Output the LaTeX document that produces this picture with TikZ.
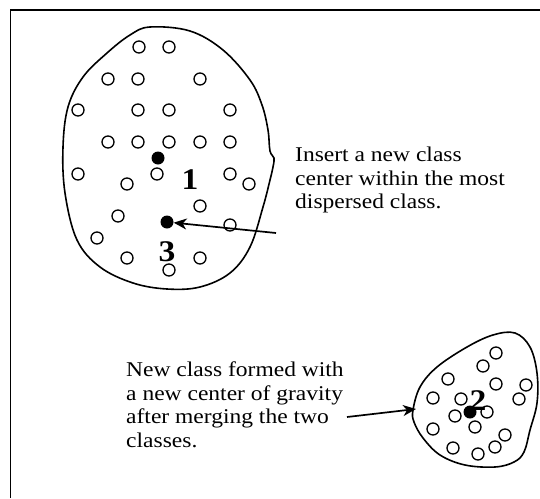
\documentclass[tikz,border=0pt]{standalone}
\usepackage{fontspec}
\setmainfont{Liberation Serif}
\newfontfamily\labfont[FakeStretch=1.12]{Liberation Serif}
\usetikzlibrary{arrows.meta}
\tikzset{
  pt/.style={circle,draw,line width=1.35pt,minimum size=12pt,inner sep=0pt},
  ctr/.style={circle,fill=black,minimum size=13pt,inner sep=0pt},
  blob/.style={line width=1.6pt},
  note/.style={font=\labfont\fontsize{21}{23.5}\selectfont,align=left,inner sep=0pt,anchor=north west},
  num/.style={font=\labfont\fontsize{30}{32}\selectfont\bfseries,inner sep=0pt},
  conn/.style={line width=1.7pt,-{Stealth[length=13pt,width=11pt,inset=4pt]}},
  frame/.style={line width=1.6pt}
}
\begin{document}
\begin{tikzpicture}[x=1pt,y=-1pt]
\useasboundingbox (0,0) rectangle (540,498);
% frame
\draw[frame] (10.5,498) -- (10.5,10) -- (540,10);
% cluster 1 boundary
\draw[blob] plot[smooth cycle,tension=0.6] coordinates {
 (150,27) (190,31) (223,50) (250,80) (262,105) (268,130) (270,151) (274,158)
 (273,167) (270,180) (263,207) (250,247) (230,273) (200,287) (167,289)
 (133,283) (100,267) (77,240) (65,193) (63,147) (68,107) (83,77) (107,53) (130,35)};
% cluster 1 points
\foreach \x/\y [count=\i] in {139/47,169/47,108/79,138/79,200/79,78/110,138/110,169/110,230/110,
  108/142,138/142,169/142,200/142,230/142,78/174,157/174,230/174,249/184,127/184,
  200/206,118/216,230/225,97/238,127/258,200/258,169/270}
  \node[pt] (p\i) at (\x,\y) {};
\node[ctr] (c1) at (158,158) {};
\node[ctr] (c3) at (167,222) {};
\node[num] (l1) at (190,180) {1};
\node[num] (l3) at (167,252) {3};
% cluster 2 boundary
\draw[blob] plot[smooth cycle,tension=0.6] coordinates {
 (413,410) (420,387) (437,367) (467,347) (493,335) (515,333) (530,347)
 (537,373) (537,403) (530,430) (524,452) (514,462) (495,467) (465,465)
 (440,455) (423,438) (414,422)};
\foreach \x/\y [count=\i] in {496/353,483/366,448/379,496/384,526/385,433/398,461/399,519/399,
  487/412,455/416,433/429,475/427,505/435,453/448,478/454,495/447}
  \node[pt] (q\i) at (\x,\y) {};
\node[num] (l2) at (478,401) {2};
\node[ctr] (c2) at (470,412) {};
% notes
\node[note] (t1) at (295,146.8) {Insert a new class\\center within the most\\dispersed class.};
\node[note] (t2) at (126,361.8) {New class formed with\\a new center of gravity\\after merging the two\\classes.};
% arrows
\coordinate (a1s) at (276,233);
\coordinate (a2s) at (347,417);
\coordinate (a2e) at (416,409);
\draw[conn] (a1s) -- (c3);
\draw[conn] (a2s) -- (a2e);
\end{tikzpicture}
\end{document}
